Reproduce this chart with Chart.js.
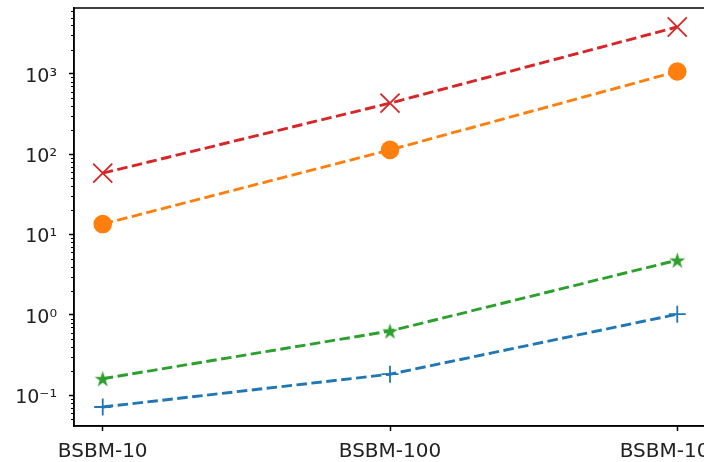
<!DOCTYPE html>
<html>
<head>
<meta charset="utf-8">
<script src="https://cdn.jsdelivr.net/npm/chart.js@4"></script>
<style>
  html, body { margin: 0; padding: 0; background: #fff; overflow: hidden; }
  #wrap { width: 720px; height: 462px; }
</style>
</head>
<body>
<div id="wrap"><canvas id="myChart" width="720" height="462"></canvas></div>
<script>
// values (log scale)
const categories = ['BSBM-10', 'BSBM-100', 'BSBM-1000'];
const plusSeries = [0.0715, 0.183, 1.02];
const circleSeries = [13.5, 113, 1068];
const starSeries = [0.161, 0.63, 4.8];
const crossSeries = [58, 431, 3820];
const yTickValues = [0.1, 1, 10, 100, 1000];
const yTickLabels = ['10⁻¹', '10⁰', '10¹', '10²', '10³'];

// matplotlib-like 5% margins in log space
const allVals = plusSeries.concat(circleSeries, starSeries, crossSeries);
const lo = Math.log10(Math.min(...allVals));
const hi = Math.log10(Math.max(...allVals));
const yMin = Math.pow(10, lo - (hi - lo) * 0.05);
const yMax = Math.pow(10, hi + (hi - lo) * 0.05);

// filled five point star marker
function starMarker(color, size) {
  const c = document.createElement('canvas');
  c.width = size; c.height = size;
  const g = c.getContext('2d');
  const R = size / 2, r = R * 0.382;
  g.beginPath();
  for (let i = 0; i < 10; i++) {
    const a = -Math.PI / 2 + i * Math.PI / 5;
    const rad = i % 2 === 0 ? R : r;
    g.lineTo(R + rad * Math.cos(a), R + 0.8 + rad * Math.sin(a));
  }
  g.closePath();
  g.fillStyle = color;
  g.fill();
  return c;
}

function toPoints(arr) {
  return arr.map((v, i) => ({ x: i, y: v }));
}

function series(data, color, style, radius, extra) {
  return Object.assign({
    data: toPoints(data),
    borderColor: color,
    backgroundColor: color,
    borderWidth: 2.9,
    borderDash: [10.5, 4.5],
    pointStyle: style,
    pointRadius: radius,
    pointBorderColor: color,
    pointBackgroundColor: color,
    pointBorderWidth: 1.8,
    tension: 0,
    fill: false,
    clip: false
  }, extra || {});
}

// top/right spines + minor log ticks
const framePlugin = {
  id: 'frame',
  afterDraw(chart) {
    const { ctx, chartArea: a } = chart;
    const ys = chart.scales.y;
    ctx.save();
    ctx.strokeStyle = '#000';
    ctx.lineWidth = 1.5;
    ctx.strokeRect(a.left, a.top, a.right - a.left, a.bottom - a.top);
    ctx.lineWidth = 1;
    for (let d = -2; d <= 3; d++) {
      for (let k = 2; k <= 9; k++) {
        const v = k * Math.pow(10, d);
        if (v < ys.min || v > ys.max) continue;
        const y = Math.round(ys.getPixelForValue(v)) + 0.5;
        ctx.beginPath();
        ctx.moveTo(a.left - 3, y);
        ctx.lineTo(a.left, y);
        ctx.stroke();
      }
    }
    ctx.restore();
  }
};

const ctx = document.getElementById('myChart').getContext('2d');
const myChart = new Chart(ctx, {
  type: 'line',
  data: {
    datasets: [
      series(plusSeries, '#1f77b4', 'cross', 8.5),
      series(circleSeries, '#ff7f0e', 'circle', 9.3, { pointBorderWidth: 0 }),
      series(starSeries, '#2ca02c', starMarker('#2ca02c', 17), 8),
      series(crossSeries, '#d62728', 'crossRot', 13.5)
    ]
  },
  options: {
    responsive: false,
    animation: false,
    events: [],
    layout: { autoPadding: false, padding: { top: 8, right: 14, bottom: 0, left: 0 } },
    plugins: { legend: { display: false }, tooltip: { enabled: false } },
    scales: {
      x: {
        type: 'linear',
        min: -0.1,
        max: 2.1,
        afterBuildTicks: s => { s.ticks = categories.map((c, i) => ({ value: i })); },
        afterFit: s => { s.height = 36; s.paddingLeft = 0; s.paddingRight = 0; },
        ticks: {
          color: '#222',
          font: { family: 'DejaVu Sans', size: 20 },
          padding: 9,
          maxRotation: 0,
          autoSkip: false,
          callback: v => categories[v]
        },
        grid: { drawOnChartArea: false, tickLength: 5, tickWidth: 1.5, tickColor: '#000' },
        border: { color: '#000', width: 1.5 }
      },
      y: {
        type: 'logarithmic',
        min: yMin,
        max: yMax,
        afterBuildTicks: s => { s.ticks = yTickValues.map(v => ({ value: v })); },
        afterFit: s => { s.width = 74; s.paddingTop = 0; s.paddingBottom = 0; },
        ticks: {
          color: '#222',
          font: { family: 'DejaVu Sans', size: 19 },
          padding: 12,
          labelOffset: 3,
          autoSkip: false,
          callback: v => yTickLabels[yTickValues.indexOf(v)]
        },
        grid: { drawOnChartArea: false, tickLength: 5, tickWidth: 1.5, tickColor: '#000' },
        border: { color: '#000', width: 1.5 }
      }
    }
  },
  plugins: [framePlugin]
});
</script>
</body>
</html>
